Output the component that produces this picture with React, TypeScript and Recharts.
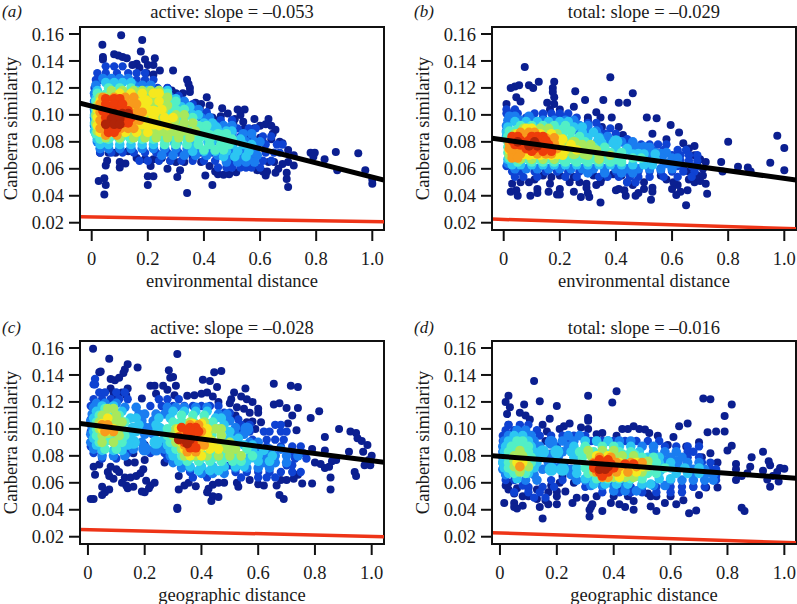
import React from 'react';
import { ScatterChart, Scatter, XAxis, YAxis, ReferenceArea, ReferenceLine } from 'recharts';

// density colours, low to high
const palette = ['#0b1f90', '#0f42d2', '#1a7df0', '#2cc6f2', '#52efc6', '#a8e85c', '#f6e81e', '#f89a1c', '#ee3c0a', '#b02408'];
const xTicks = [0, 0.2, 0.4, 0.6, 0.8, 1.0];
const yTicks = [0.02, 0.04, 0.06, 0.08, 0.1, 0.12, 0.14, 0.16];

// outliers as [x, y]
const aNavy = [[.105,.159],[.038,.152],[.18,.1555],[.175,.147],[.04,.143],[.04,.141],[.08,.145],[.095,.144],[.11,.143],[.125,.142],[.19,.141],[.225,.142],[.22,.137],[.2,.137],[.16,.138],[.145,.137],[.243,.133],[.29,.133],[.22,.13],[.195,.131],[.17,.135],[.34,.126],[.345,.123],[.35,.12],[.35,.117],[.325,.116],[.3,.116],[.27,.12],[.285,.118],[.37,.109],[.39,.108],[.41,.113],[.42,.107],[.385,.105],[.4,.1],[.43,.098],[.465,.105],[.52,.104],[.545,.104],[.53,.1],[.51,.097],[.46,.099],[.485,.101],[.45,.096],[.505,.094],[.54,.095],[.58,.097],[.63,.097],[.62,.093],[.64,.092],[.655,.089],[.645,.086],[.6,.092],[.58,.09],[.56,.088],[.545,.09],[.55,.085],[.6,.083],[.61,.08],[.64,.082],[.67,.08],[.68,.079],[.7,.074],[.72,.07],[.72,.0625],[.78,.072],[.795,.072],[.79,.069],[.83,.067],[.87,.0725],[.95,.0715],[.975,.059],[1.0,.052],[1.0,.049],[.875,.059],[.7,.065],[.695,.0525],[.7,.0465],[.695,.057],[.68,.0635],[.665,.06],[.65,.065],[.63,.065],[.62,.055],[.625,.058],[.655,.057],[.59,.059],[.61,.058],[.515,.0575],[.49,.056],[.47,.0555],[.45,.056],[.44,.058],[.43,.048],[.405,.055],[.34,.042],[.305,.054],[.315,.059],[.27,.06],[.2,.0545],[.22,.0545],[.2,.048],[.21,.062],[.12,.064],[.1,.061],[.1,.065],[.05,.048],[.045,.053],[.025,.051],[.045,.041],[.05,.0625],[.055,.066],[.03,.072],[.06,.072],[.085,.072],[.13,.073],[.16,.068],[.19,.067],[.22,.067],[.25,.068],[.28,.066],[.3,.065],[.33,.065],[.36,.068],[.39,.065],[.42,.062]];
const bNavy = [[.075,.1355],[.125,.1245],[.09,.122],[.055,.122],[.04,.121],[.025,.12],[.105,.12],[.18,.1245],[.175,.12],[.175,.117],[.18,.113],[.18,.108],[.255,.1175],[.38,.128],[.46,.116],[.29,.111],[.355,.111],[.41,.109],[.44,.109],[.155,.109],[.045,.113],[.06,.11],[.01,.108],[.25,.106],[.165,.104],[.2,.104],[.33,.102],[.3,.098],[.345,.098],[.385,.098],[.3,.096],[.51,.098],[.545,.0975],[.595,.0925],[.625,.087],[.41,.091],[.35,.091],[.425,.085],[.53,.086],[.58,.082],[.64,.079],[.68,.077],[.66,.075],[.7,.067],[.68,.07],[.775,.065],[.8,.08],[.835,.0615],[.87,.061],[.95,.0645],[.975,.0845],[1.0,.0755],[1.0,.059],[.78,.058],[.88,.058],[.72,.049],[.725,.0415],[.65,.033],[.655,.044],[.615,.0405],[.63,.043],[.6,.045],[.62,.048],[.605,.05],[.66,.052],[.68,.05],[.7,.051],[.525,.037],[.53,.043],[.53,.046],[.48,.042],[.46,.048],[.47,.04],[.435,.04],[.43,.044],[.4,.044],[.41,.045],[.345,.035],[.305,.039],[.275,.039],[.25,.043],[.295,.046],[.3,.042],[.295,.049],[.33,.048],[.345,.05],[.27,.05],[.235,.05],[.2,.041],[.2,.045],[.19,.041],[.16,.043],[.165,.049],[.12,.045],[.12,.042],[.095,.04],[.045,.044],[.05,.04],[.025,.043],[.03,.049],[.06,.05],[.09,.05],[.11,.052],[.14,.055],[.5,.045],[.5,.05],[.44,.05],[.42,.055],[.39,.056],[.35,.053],[.32,.055],[.25,.054],[.2,.055],[.17,.054],[.56,.055],[.58,.052],[.66,.058],[.69,.055],[.71,.055],[.71,.06],[.69,.063],[.72,.065]];
const cNavy = [[.018,.1595],[.075,.152],[.14,.148],[.175,.1455],[.13,.144],[.125,.1415],[.04,.142],[.045,.1425],[.315,.1555],[.285,.1435],[.29,.138],[.3,.1385],[.31,.132],[.405,.1365],[.43,.1355],[.445,.142],[.47,.143],[.455,.131],[.655,.1335],[.715,.132],[.74,.131],[.555,.13],[.515,.127],[.05,.1265],[.08,.137],[.095,.136],[.11,.138],[.08,.13],[.09,.127],[.14,.13],[.12,.127],[.135,.125],[.1,.122],[.19,.1225],[.22,.132],[.235,.132],[.265,.132],[.28,.129],[.24,.126],[.305,.125],[.35,.1245],[.375,.125],[.4,.126],[.42,.127],[.44,.124],[.46,.12],[.5,.119],[.505,.122],[.54,.124],[.56,.122],[.58,.12],[.6,.115],[.655,.118],[.675,.119],[.525,.116],[.52,.11],[.55,.115],[.57,.112],[.6,.112],[.56,.105],[.58,.1055],[.61,.105],[.59,.1],[.56,.1],[.7,.1155],[.74,.1155],[.72,.11],[.705,.104],[.735,.099],[.785,.108],[.815,.113],[.885,.1],[.925,.098],[.945,.097],[.835,.094],[.95,.093],[.965,.091],[.985,.088],[.92,.083],[.97,.083],[1.0,.08],[.99,.077],[.975,.073],[.995,.073],[.94,.068],[.945,.065],[.875,.077],[.86,.076],[.85,.072],[.835,.071],[.82,.074],[.8,.075],[.79,.085],[.835,.084],[.855,.064],[.855,.055],[.755,.0595],[.79,.0595],[.74,.066],[.7,.062],[.725,.063],[.68,.062],[.675,.051],[.69,.048],[.665,.058],[.62,.058],[.6,.059],[.57,.062],[.525,.06],[.53,.057],[.48,.06],[.44,.0585],[.46,.06],[.425,.0555],[.42,.053],[.44,.05],[.435,.0465],[.46,.0495],[.38,.0575],[.355,.06],[.34,.058],[.32,.055],[.315,.0415],[.315,.0405],[.32,.065],[.27,.075],[.235,.06],[.22,.058],[.205,.0615],[.215,.056],[.2,.053],[.19,.0535],[.16,.057],[.14,.056],[.135,.058],[.12,.06],[.13,.064],[.15,.064],[.17,.065],[.185,.067],[.195,.07],[.2,.077],[.165,.075],[.14,.075],[.05,.057],[.06,.053],[.05,.051],[.075,.055],[.02,.048],[.01,.048],[.025,.066],[.02,.072],[.04,.0735],[.07,.068],[.075,.065],[.09,.063],[.1,.07],[.11,.068],[.08,.072],[.16,.082],[.2,.088],[.22,.083]];
const dNavy = [[.12,.1355],[.41,.128],[.03,.1245],[.31,.1245],[.02,.12],[.14,.1205],[.395,.1195],[.085,.118],[.2,.117],[.035,.116],[.715,.1225],[.74,.122],[.815,.118],[.025,.111],[.07,.112],[.09,.11],[.105,.107],[.31,.108],[.31,.106],[.79,.1095],[.175,.1075],[.15,.103],[.03,.103],[.245,.104],[.225,.102],[.21,.1],[.285,.101],[.31,.1],[.47,.102],[.43,.1],[.45,.1],[.49,.1],[.51,.0995],[.525,.097],[.36,.097],[.34,.096],[.41,.095],[.63,.102],[.66,.104],[.73,.0975],[.76,.098],[.79,.098],[.555,.095],[.61,.094],[.59,.088],[.7,.09],[.8,.084],[.815,.0875],[.655,.087],[.74,.082],[.885,.079],[.925,.083],[.71,.079],[.765,.075],[.83,.074],[.945,.076],[.95,.073],[.88,.072],[.83,.07],[.985,.071],[1.0,.0705],[.925,.069],[.975,.068],[.96,.065],[.87,.067],[.85,.065],[.83,.062],[.94,.0625],[.98,.061],[.95,.057],[.85,.0415],[.86,.039],[.665,.0375],[.69,.0395],[.725,.0565],[.765,.0565],[.7,.051],[.68,.057],[.645,.047],[.62,.044],[.58,.045],[.55,.039],[.53,.0425],[.6,.05],[.55,.05],[.52,.052],[.5,.054],[.47,.0465],[.47,.04],[.44,.042],[.42,.044],[.39,.045],[.36,.039],[.32,.042],[.315,.04],[.315,.035],[.325,.044],[.3,.049],[.27,.049],[.255,.045],[.2,.0535],[.2,.05],[.23,.0535],[.2,.044],[.17,.044],[.15,.0335],[.14,.042],[.16,.047],[.13,.048],[.1,.05],[.08,.05],[.08,.043],[.06,.041],[.05,.045],[.05,.042],[.015,.045],[.03,.055],[.05,.052],[.02,.058],[.03,.06],[.06,.056],[.1,.056],[.13,.055],[.17,.053],[.21,.06],[.18,.058],[.26,.06],[.22,.065],[.34,.05],[.4,.05],[.45,.05],[.53,.05],[.16,.091],[.165,.098],[.11,.095]];

// dense parts, each row is [y, x, x, x...], one table per density level
const aRows = [
  [[.136,.05,.08,.11],[.131,.02,.05,.09,.13,.16,.19],[.126,.015,.03,.16,.19,.22],[.12,.01,.2,.235,.27],[.114,.01,.28,.31],[.108,.01,.33,.36],[.102,.01,.38,.41],[.096,.01,.42,.46,.5],[.09,.47,.52,.56,.585],[.084,.53,.57,.61,.64],[.078,.59,.62,.66,.68],[.072,.03,.07,.11,.15,.19,.23,.27,.31,.35,.39,.43,.47,.62,.65,.67],[.066,.17,.2,.24,.28,.32,.36,.4,.44,.48,.5,.52,.55,.58,.61,.64],[.061,.45,.48,.5,.53,.55,.57,.6]],
  [[.127,.04,.07,.1,.13],[.122,.015,.15,.18,.21],[.116,.01,.24],[.11,.01,.3,.33],[.104,.01,.35,.38],[.098,.01,.39,.42],[.092,.01,.44,.47,.5],[.086,.015,.5,.54,.57],[.08,.02,.55,.58,.6],[.075,.03,.06,.1,.14,.18,.22,.26,.3,.34,.38,.42,.46,.5,.54,.58],[.07,.25,.29,.33,.37,.41,.45,.49,.53,.56,.59],[.065,.48,.52,.55,.58]],
  [[.124,.05,.08,.11,.14],[.118,.02,.16,.2,.24,.27],[.112,.015,.28,.3],[.106,.01,.32,.35],[.1,.01,.36,.38],[.094,.01,.4,.43],[.088,.01,.45,.48,.5],[.082,.02,.5,.53],[.078,.03,.06,.1,.14,.18,.22,.26,.3,.34,.38,.42,.46,.5,.54,.57],[.073,.36,.4,.44,.48,.52,.56],[.069,.47,.51,.55]],
  [[.12,.06,.1,.14],[.116,.02,.17,.2,.25,.27],[.11,.015,.27,.3],[.104,.015,.3,.33],[.098,.015,.33,.36],[.092,.015,.38,.41],[.086,.015,.41,.45,.48],[.082,.03,.06,.1,.14,.18,.22,.26,.3,.34,.38,.42,.46,.5],[.078,.26,.3,.34,.38,.42,.46,.49],[.074,.4,.44,.47]],
  [[.118,.07,.11,.15,.18,.21,.24],[.113,.03,.05,.25,.27],[.107,.02,.27],[.1,.015,.3,.33],[.094,.015,.33,.36],[.088,.02,.25,.28,.31,.34,.37],[.083,.05,.1,.15,.19,.23,.27,.31,.35]],
  [[.116,.1,.14,.18,.22,.24],[.11,.03,.2,.24],[.104,.02,.2,.25],[.098,.02,.22,.26,.29],[.092,.02,.2,.24,.27],[.087,.03,.07,.12,.16,.2]],
  [[.113,.04,.08,.12,.15],[.108,.03,.14,.16],[.102,.03,.16,.18],[.096,.03,.15,.17],[.09,.03,.13,.15],[.085,.05,.09]],
  [[.112,.05,.08,.1],[.108,.05,.08,.11],[.103,.04,.07,.1,.13],[.098,.05,.09,.12,.14],[.094,.05,.08,.11,.13],[.09,.06,.09],[.087,.06,.08]],
  [[.101,.08,.11,.13],[.097,.07,.1],[.093,.05,.08,.1]],
];
const bRows = [
  [[.104,.01,.04],[.101,.01,.03,.05,.11,.14,.17,.2,.23],[.098,.08,.14,.18,.22,.26],[.094,.3,.33],[.09,.34,.38],[.086,.36,.4],[.082,.4,.44],[.078,.45,.49,.52,.55,.58],[.074,.5,.53,.57,.62,.65],[.07,.6,.63,.66,.69],[.066,.63,.66,.69],[.062,.01,.62,.64,.67,.69],[.058,.03,.06,.11,.15,.19,.23,.27,.31,.36,.4,.44,.48,.52,.56,.6,.64,.68],[.054,.04,.07,.12,.22,.26,.34,.37,.41,.45,.48,.52,.57,.62,.67],[.05,.44,.47]],
  [[.099,.02,.04,.09],[.096,.015,.06,.1,.14,.18,.22,.25],[.092,.01,.27,.3],[.088,.01,.3,.33],[.084,.01,.34,.37],[.08,.38,.42,.46],[.076,.44,.48,.52],[.072,.5,.54,.58],[.068,.56,.6,.62],[.064,.015,.58,.62],[.06,.04,.08,.12,.16,.2,.24,.28,.32,.36,.4,.44,.48,.52,.56,.6],[.057,.3,.36,.42,.46]],
  [[.095,.04,.08,.12,.16,.2,.23],[.091,.015,.25,.28],[.087,.01,.28,.32],[.083,.01,.3,.34],[.079,.35,.39],[.075,.4,.44],[.071,.46,.5,.54],[.067,.015,.5,.54],[.063,.03,.06,.1,.14,.18,.22,.26,.3,.34,.38,.42,.46,.5,.53]],
  [[.092,.06,.1,.14,.18,.22],[.088,.02,.24],[.084,.015,.27],[.08,.015,.29],[.076,.015,.32,.36],[.072,.015,.38,.42],[.068,.02,.42,.46,.49],[.065,.05,.1,.14,.18,.22,.26,.3,.34,.38,.42]],
  [[.09,.07,.1,.13,.16],[.086,.04,.19],[.082,.03,.21],[.078,.02,.25,.28,.31],[.074,.02,.27,.33],[.07,.02,.3,.34,.38],[.067,.06,.1,.14,.18,.34]],
  [[.09,.08,.1],[.086,.05,.13,.17],[.082,.03,.19,.21],[.078,.03,.2,.24],[.074,.02,.22,.26],[.07,.04,.09,.13,.17,.21]],
  [[.087,.06,.09,.11],[.083,.03,.15,.18],[.079,.02,.18],[.075,.02,.19],[.071,.03,.06,.12,.15,.17],[.068,.03,.05]],
  [[.084,.03,.05,.1,.12,.14],[.081,.03,.06,.09,.13,.15],[.078,.04,.07,.1,.13,.16],[.075,.08,.11,.14,.17],[.073,.1,.14,.17]],
  [[.08,.05,.11],[.077,.09,.12]],
];
const cRows = [
  [[.137,.025],[.133,.02,.025],[.127,.04,.06,.1,.13],[.122,.02,.05,.08,.11,.14,.25,.28,.32],[.117,.01,.22,.26,.3,.34,.37,.4,.43,.46],[.112,.48,.5],[.107,.01,.5,.53],[.103,.54,.57,.66,.68],[.098,.01,.54,.57,.62,.64,.68,.7],[.092,.58,.63,.66,.69],[.087,.01,.2,.25,.63,.68,.72,.75],[.082,.02,.14,.22,.27,.72,.76],[.078,.05,.1,.28,.73,.77],[.073,.34,.5,.7,.72],[.068,.36,.4,.44,.48,.52,.56,.6,.64,.68,.72,.75],[.064,.37,.42,.54,.6,.63,.66]],
  [[.119,.03,.06,.1],[.116,.02,.13,.17,.28,.31,.34,.38,.42],[.111,.015,.18,.2,.24,.27,.46,.49],[.106,.01,.19,.23,.5],[.101,.015,.22,.25,.52],[.096,.01,.2,.23,.52,.55],[.09,.01,.19,.25,.57,.6],[.085,.02,.16,.27,.6,.64,.68],[.08,.05,.09,.13,.29,.66,.7,.74],[.075,.3,.33,.62,.66,.7],[.071,.33,.36,.4,.44,.48,.52,.56,.6,.64],[.067,.4,.44,.48]],
  [[.117,.05,.09],[.113,.03,.12,.3,.34,.38,.42],[.108,.02,.15,.17,.25,.29,.45,.47],[.103,.02,.18,.24,.48],[.098,.02,.17,.26,.5],[.093,.02,.15,.27,.5,.53],[.088,.03,.14,.28,.55,.58],[.084,.05,.09,.12,.29,.58,.62],[.08,.3,.6,.65],[.076,.32,.35,.56,.6,.64],[.072,.36,.4,.44,.48,.52,.55],[.069,.39,.43,.46]],
  [[.115,.06,.09],[.11,.04,.11,.33,.37,.41],[.105,.03,.13,.3,.44],[.1,.03,.12,.28,.46],[.095,.03,.13,.28,.47],[.09,.04,.12,.29,.5],[.085,.06,.1,.31,.52,.56],[.08,.33,.54,.58],[.076,.35,.39,.43,.47,.51,.54]],
  [[.115,.07,.09],[.11,.05,.1],[.105,.04,.12,.36,.41],[.1,.04,.11,.31,.45,.47],[.095,.05,.11,.3,.47],[.09,.05,.09,.31,.47,.5],[.085,.33,.49,.52],[.08,.34,.38,.42,.46,.5,.54]],
  [[.108,.07],[.104,.05,.37,.4],[.1,.05,.09,.32,.42],[.095,.32,.42],[.09,.33,.42,.44],[.085,.34,.43,.46],[.08,.36,.4]],
  [[.103,.05,.07,.36,.39],[.098,.06,.09,.34,.4],[.093,.33,.38],[.088,.34,.39,.41],[.083,.35,.38]],
  [[.101,.33,.36,.38],[.098,.35,.37,.39],[.094,.32,.35],[.09,.34,.37],[.086,.36,.38]],
  [[.092,.32,.34,.36],[.089,.35]],
];
const dRows = [
  [[.103,.03,.07,.1],[.099,.02,.05,.13],[.095,.01,.14,.18,.22,.26,.3],[.091,.01,.25,.32,.36,.4,.44,.48,.52,.56],[.087,.2,.54,.58,.62,.66,.7],[.083,.58,.62,.66,.68],[.079,.66,.7],[.075,.71,.74],[.07,.74,.76],[.065,.76],[.062,.02,.05,.09,.13,.18,.22,.72,.76],[.058,.08],[.057,.1,.15,.19,.3,.36,.42,.46,.5,.55,.6,.64,.68,.72],[.053,.05,.1,.14,.36,.42,.46,.5,.55,.6,.64],[.049,.12,.16]],
  [[.099,.06,.09],[.095,.03,.07,.11,.24,.28],[.091,.015,.12,.22,.26,.3,.34,.38,.42,.46],[.087,.01,.14,.24,.5,.54],[.083,.01,.13,.22,.26,.54,.58,.62],[.079,.01,.15,.56,.6,.64],[.075,.01,.17,.66,.7],[.07,.01,.15,.25,.68,.72],[.066,.02,.06,.12,.25,.68,.72,.75],[.062,.09,.13,.27,.3,.34,.6,.64,.68,.72,.75],[.058,.32,.36,.4,.44,.5,.54,.58],[.054,.4,.44,.48]],
  [[.095,.05,.08],[.091,.03,.1,.3,.34,.38],[.087,.02,.11,.26,.3,.42,.46],[.083,.015,.12,.25,.49],[.079,.015,.12,.26,.52,.56],[.075,.01,.13,.56,.6],[.071,.015,.12,.27,.6,.65,.7],[.067,.03,.1,.27,.62,.66,.7],[.063,.06,.3,.33,.56,.6],[.059,.33,.37,.41,.45,.5,.53]],
  [[.091,.06,.08],[.087,.04,.1,.3,.36,.4],[.083,.03,.1,.28,.33,.42,.46],[.079,.03,.11,.29,.5,.54],[.075,.03,.11,.5,.55],[.071,.03,.1,.3,.55,.58],[.067,.05,.09,.31,.52,.55],[.063,.34,.38,.42,.46,.5]],
  [[.084,.07,.31,.36,.4],[.08,.05,.08,.32,.43,.47],[.076,.05,.09,.48,.52],[.072,.05,.1,.33,.52],[.068,.07,.33,.5],[.064,.36,.4,.44,.47]],
  [[.08,.34,.38],[.075,.06,.08,.33,.42,.48],[.072,.07,.33,.5],[.068,.35,.44,.48],[.064,.38,.42]],
  [[.079,.35,.39],[.075,.33,.41,.46,.5],[.072,.07,.33,.42,.48],[.068,.34,.41,.45],[.064,.36,.38]],
  [[.077,.35,.38],[.074,.33,.36,.39,.44,.47],[.071,.33,.36,.4],[.068,.35,.38],[.065,.36]],
  [[.072,.36,.38],[.07,.35,.37]],
];

// inner cover of each density level, same row shape; empty where nothing is needed
const aCover = [
  [],
  [[.09,.3,.34,.38,.42],[.1,.2,.26,.3],[.08,.46,.5]],
  [[.11,.05,.1,.16,.22],[.09,.35,.4,.44],[.08,.3,.36,.42,.48]],
  [[.114,.05,.09,.13,.17,.21,.25],[.106,.04,.08,.12,.16,.2,.24,.28],[.098,.04,.08,.12,.16,.2,.24,.28,.32],[.09,.04,.08,.12,.16,.2,.24,.28,.32,.36,.4],[.084,.06,.1,.14,.18,.22,.26,.3,.34,.38,.42,.46]],
  [[.112,.06,.1,.14,.18,.22],[.104,.05,.09,.13,.17,.21,.25],[.096,.05,.09,.13,.17,.21,.25,.29],[.089,.05,.09,.13,.17,.21,.25,.29,.32]],
  [[.11,.07,.11,.15,.19],[.102,.06,.1,.14,.18,.22],[.094,.06,.1,.14,.18,.22]],
  [[.106,.07,.11],[.098,.07,.11,.14],[.091,.07,.1]],
  [[.105,.08],[.098,.07,.1]],
  [],
];
const bCover = [
  [],
  [[.075,.46,.5],[.09,.2,.26],[.07,.52,.56]],
  [[.08,.34,.4],[.09,.1,.18],[.07,.42,.48]],
  [[.088,.05,.09,.13,.17,.21],[.081,.04,.08,.12,.16,.2,.24],[.074,.04,.08,.12,.16,.2,.24,.28,.32],[.068,.05,.09,.13,.17,.21,.25,.29,.33,.37,.4]],
  [[.086,.07,.11,.15],[.079,.05,.09,.13,.17,.21,.25],[.072,.05,.09,.13,.17,.21,.25,.29]],
  [[.084,.07,.11],[.077,.06,.1,.14,.18],[.072,.07,.11,.15,.19]],
  [[.082,.06,.1,.13],[.075,.06,.1,.14]],
  [[.079,.06,.1,.13]],
  [],
];
const cCover = [
  [],
  [[.085,.2,.24],[.1,.2,.56],[.08,.58,.62]],
  [[.1,.16,.25],[.09,.16,.24],[.08,.34,.58],[.09,.52]],
  [[.108,.06,.09],[.1,.06,.09],[.092,.06,.09],[.104,.33,.37,.41],[.096,.31,.35,.39,.43],[.088,.32,.36,.4,.44,.48],[.08,.36,.4,.44,.48,.52]],
  [[.105,.07,.09],[.098,.07],[.099,.34,.38,.42],[.091,.35,.39,.43]],
  [[.1,.07],[.095,.36,.39],[.088,.37,.4]],
  [[.095,.36],[.088,.37]],
  [],
  [],
];
const dCover = [
  [],
  [[.08,.18,.2],[.072,.18,.22],[.09,.18],[.075,.58,.62]],
  [[.083,.15,.2],[.07,.18,.22],[.07,.56]],
  [[.085,.06,.08],[.078,.06,.08],[.07,.05,.08],[.08,.33,.38,.43,.47],[.073,.33,.38,.43,.47,.52],[.066,.36,.4,.44,.48]],
  [[.08,.07],[.072,.07],[.078,.36,.41],[.072,.37,.42,.47],[.067,.38,.43]],
  [[.072,.36,.4,.45]],
  [[.071,.36,.39]],
  [],
  [],
];

const pairs = (list: number[][]) => list.map(([x, y]) => ({ x, y }));
const rows = (list: number[][]) => list.flatMap(([y, ...xs]) => xs.map((x) => ({ x, y })));

const yDomain = [0.0146, 0.1652];

const panels = [
  { letter: 'a', title: 'active: slope = –0.053', xLabel: 'environmental distance', left: 0, top: 0, titleTop: 2, xDomain: [-0.0417, 1.0417], navy: aNavy, levels: aRows, cover: aCover, black: [0.1086, 0.0517], red: [0.0244, 0.0207] },
  { letter: 'b', title: 'total: slope = –0.029', xLabel: 'environmental distance', left: 412, top: 0, titleTop: 2, xDomain: [-0.0417, 1.0417], navy: bNavy, levels: bRows, cover: bCover, black: [0.0826, 0.0517], red: [0.0227, 0.0155] },
  { letter: 'c', title: 'active: slope = –0.028', xLabel: 'geographic distance', left: 0, top: 314, titleTop: 4, xDomain: [-0.028, 1.0434], navy: cNavy, levels: cRows, cover: cCover, black: [0.1041, 0.0752], red: [0.0254, 0.02] },
  { letter: 'd', title: 'total: slope = –0.016', xLabel: 'geographic distance', left: 412, top: 314, titleTop: 4, xDomain: [-0.028, 1.041], navy: dNavy, levels: dRows, cover: dCover, black: [0.0801, 0.0633], red: [0.023, 0.0155] },
];

const font = '"Liberation Serif", serif';
const ink = '#1a1a1a';

const dot = (r: number, fill: string) => (props: any) => <circle cx={props.cx} cy={props.cy} r={r} fill={fill} />;

const Panel = ({ p }: { p: (typeof panels)[number] }) => {
  const [x0, x1] = p.xDomain;
  const tickStyle = { fontSize: 18.5, fontFamily: font, fill: ink };
  const axisLine = { stroke: '#111', strokeWidth: 2 };
  return (
    <div style={{ position: 'absolute', left: p.left, top: p.top, width: 386, height: 300, fontFamily: font, color: ink }}>
      <div style={{ position: 'absolute', left: 2, top: p.titleTop, fontSize: 17, fontStyle: 'italic' }}>({p.letter})</div>
      <div style={{ position: 'absolute', left: 80, width: 304, top: p.titleTop, fontSize: 18.5, textAlign: 'center' }}>{p.title}</div>
      <ScatterChart width={386} height={300} margin={{ top: 27, right: 2, bottom: 0, left: 0 }} style={{ position: 'absolute', left: 0, top: 0 }}>
        <XAxis
          type="number"
          dataKey="x"
          domain={p.xDomain}
          ticks={xTicks}
          interval={0}
          allowDataOverflow
          height={70}
          tickSize={11}
          tickMargin={11}
          tick={tickStyle}
          tickLine={axisLine}
          axisLine={axisLine}
          tickFormatter={(v: number) => (v === 0 ? '0' : v.toFixed(1))}
          label={{ value: p.xLabel, position: 'insideBottom', offset: 13, style: { fontSize: 18.5, fontFamily: font, fill: ink } }}
        />
        <YAxis
          type="number"
          dataKey="y"
          domain={yDomain}
          ticks={yTicks}
          interval={0}
          allowDataOverflow
          width={80}
          tickSize={11}
          tickMargin={5}
          tick={tickStyle}
          tickLine={axisLine}
          axisLine={axisLine}
          tickFormatter={(v: number) => v.toFixed(2)}
          label={{ value: 'Canberra similarity', angle: -90, position: 'insideLeft', offset: 10, style: { fontSize: 18.5, fontFamily: font, fill: ink, textAnchor: 'middle' } }}
        />
        <ReferenceLine segment={[{ x: x0, y: p.red[0] }, { x: x1, y: p.red[1] }]} stroke="#ee3417" strokeWidth={3.5} ifOverflow="hidden" />
        <ReferenceArea x1={x0} x2={x1} y1={yDomain[0]} y2={yDomain[1]} fill="none" stroke="#111" strokeWidth={2} />
        <Scatter data={pairs(p.navy)} shape={dot(4, palette[0])} isAnimationActive={false} />
        {p.levels.flatMap((level, i) => [
          <Scatter key={`c${i}`} data={rows(p.cover[i])} shape={dot(6.5, palette[i + 1])} isAnimationActive={false} />,
          <Scatter key={`l${i}`} data={rows(level)} shape={dot(i === 0 ? 4.2 : 4.8, palette[i + 1])} isAnimationActive={false} />,
        ])}
        <Scatter data={[{ x: x0, y: p.black[0] }, { x: x1, y: p.black[1] }]} line={{ stroke: '#000', strokeWidth: 5 }} shape={() => null} isAnimationActive={false} />
      </ScatterChart>
    </div>
  );
};

export default function App() {
  return (
    <div style={{ position: 'absolute', left: 0, top: 0, width: 797, height: 604, overflow: 'hidden', background: '#fff' }}>
      {panels.map((p) => (
        <Panel key={p.letter} p={p} />
      ))}
    </div>
  );
}
